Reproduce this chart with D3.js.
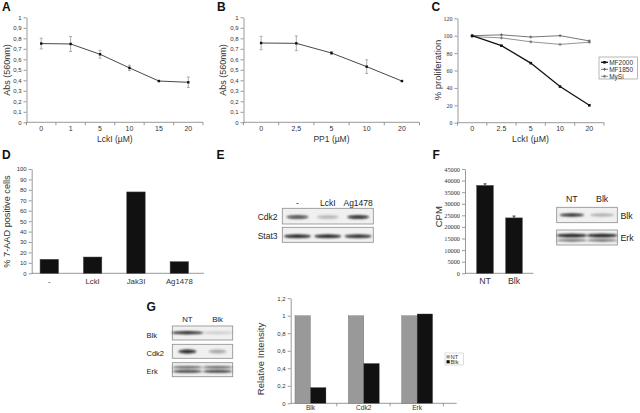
<!DOCTYPE html>
<html><head><meta charset="utf-8">
<script src="https://cdn.jsdelivr.net/npm/d3@7"></script>
<style>body{margin:0;background:#fff}svg{display:block}text{font-family:"Liberation Sans",Arial,sans-serif;fill:#333}</style>
</head><body><script>
// ---------- data ----------
const aCats=["0","1","5","10","15","20"];
const aVals=[0.75,0.746,0.648,0.518,0.393,0.381];
const aErr=[0.051,0.071,0.037,0.025,0.004,0.05];
const bCats=["0","2,5","5","10","20"];
const bVals=[0.755,0.752,0.66,0.53,0.393];
const bErr=[0.064,0.07,0.013,0.065,0.004];
const abTicks=[0,0.1,0.2,0.3,0.4,0.5,0.6,0.7,0.8,0.9,1];
const abTickLabels=["0","0,1","0,2","0,3","0,4","0,5","0,6","0,7","0,8","0,9","1"];
const cCats=["0","2.5","5","10","20"];
const cSeries=["MF2000","MF1850","MySi"];
const cMF2000=[100,88.5,68.5,41.5,20];
const cMF1850=[100,101,98.5,100,94];
const cMySi=[99,97.5,93,90,92.5];
const cTicks=[0,20,40,60,80,100,120];
const dCats=["-","LckI","Jak3I","Ag1478"];
const dVals=[13.4,15.6,78,11.1];
const dTicks=[0,10,20,30,40,50,60,70,80,90,100];
const eLanes=["-","LckI","Ag1478"];
const eProteins=["Cdk2","Stat3"];
const eCdk2=[0.75,0.25,0.9];
const eStat3=[0.95,0.95,0.9];
const fCats=["NT","Blk"];
const fVals=[37900,23900];
const fErr=[700,800];
const fTicks=[0,5000,10000,15000,20000,25000,30000,35000,40000,45000];
const fProteins=["Blk","Erk"];
const fBlk=[0.95,0.3];
const fErkUpper=[0.95,0.95];
const fErkLower=[0.65,0.65];
const gLanes=["NT","Blk"];
const gProteins=["Blk","Cdk2","Erk"];
const gBlk=[0.95,0.15];
const gCdk2=[0.9,0.3];
const gErkUpper=[0.75,0.75];
const gErkLower=[0.9,0.9];
const gGroups=["Blk","Cdk2","Erk"];
const gSeries=["NT","Blk"];
const gNT=[1,1,1];
const gBlkRel=[0.18,0.455,1.02];
const gTicks=[0,0.2,0.4,0.6,0.8,1,1.2];
const gTickLabels=["0","0,2","0,4","0,6","0,8","1","1,2"];

// ---------- setup ----------
const svg=d3.select("body").append("svg").attr("width",640).attr("height",413);
svg.append("defs").append("filter").attr("id","blur").attr("x","-50%").attr("y","-100%").attr("width","200%").attr("height","300%")
  .append("feGaussianBlur").attr("stdDeviation",0.8);
const AX="#808080";
const SERIF='"Liberation Serif","Times New Roman",serif';

function letter(t,x,y){svg.append("text").attr("x",x).attr("y",y).text(t).style("font-size","12px").style("font-weight","bold").style("fill","#111");}
function styleAxis(g,fs,family){
  g.select(".domain").attr("stroke",AX).attr("stroke-width",0.8);
  g.selectAll(".tick line").attr("stroke",AX).attr("stroke-width",0.8);
  g.selectAll(".tick text").style("font-size",fs+"px").style("fill","#333").style("font-family",family||null);
}
function yAxis(y,x0,ticks,labels,fs,family){
  const g=svg.append("g").attr("transform",`translate(${x0},0)`)
    .call(d3.axisLeft(y).tickValues(ticks).tickFormat((d,i)=>labels?labels[i]:d).tickSize(3).tickSizeOuter(0).tickPadding(2));
  styleAxis(g,fs,family); return g;
}
function yTitle(t,x,y,fs){svg.append("text").attr("transform",`translate(${x},${y}) rotate(-90)`).attr("text-anchor","middle").text(t).style("font-size",fs+"px");}
function xTitle(t,x,y,fs){svg.append("text").attr("x",x).attr("y",y).attr("text-anchor","middle").text(t).style("font-size",fs+"px");}
function bandXAxis(x,y0,fs,boundaryTicks,family,extend,pad){
  const g=svg.append("g").attr("transform",`translate(0,${y0})`)
    .call(d3.axisBottom(x).tickSize(0).tickPadding(pad==null?4:pad));
  styleAxis(g,fs,family);
  g.select(".domain").remove();
  const r=x.range();
  g.append("line").attr("x1",extend?extend[0]:r[0]).attr("x2",extend?extend[1]:r[1]).attr("stroke",AX).attr("stroke-width",0.8);
  if(boundaryTicks){
    const b=x.domain().map(c=>x(c)).concat([r[1]]);
    g.selectAll(".bt").data(b).enter().append("line").attr("x1",d=>d).attr("x2",d=>d).attr("y1",0).attr("y2",3).attr("stroke",AX).attr("stroke-width",0.8);
  }
  return g;
}

// ---------- line panels A, B ----------
function linePanel(cats,vals,errs,xr,title){
  const x=d3.scaleBand(cats,xr);
  const y=d3.scaleLinear([0,1],[122.3,17.3]);
  yAxis(y,xr[0],abTicks,abTickLabels,6);
  bandXAxis(x,122.3,7,true,null,null,3.5);
  const cx=c=>x(c)+x.bandwidth()/2;
  const pts=cats.map((c,i)=>({c,v:vals[i],e:errs[i]}));
  svg.append("path").datum(pts).attr("fill","none").attr("stroke","#333").attr("stroke-width",0.9)
    .attr("d",d3.line().x(d=>cx(d.c)).y(d=>y(d.v)));
  const eb=svg.append("g").attr("stroke","#999").attr("stroke-width",0.8);
  pts.forEach(d=>{
    eb.append("line").attr("x1",cx(d.c)).attr("x2",cx(d.c)).attr("y1",y(d.v-d.e)).attr("y2",y(d.v+d.e));
    eb.append("line").attr("x1",cx(d.c)-1.5).attr("x2",cx(d.c)+1.5).attr("y1",y(d.v-d.e)).attr("y2",y(d.v-d.e));
    eb.append("line").attr("x1",cx(d.c)-1.5).attr("x2",cx(d.c)+1.5).attr("y1",y(d.v+d.e)).attr("y2",y(d.v+d.e));
  });
  svg.append("g").selectAll("rect").data(pts).enter().append("rect")
    .attr("x",d=>cx(d.c)-1.2).attr("y",d=>y(d.v)-1.2).attr("width",2.4).attr("height",2.4).attr("fill","#111");
  xTitle(title,(xr[0]+xr[1])/2,141.5,8.5);
}
letter("A",2,11);
linePanel(aCats,aVals,aErr,[26.5,203],"LckI (µM)");
yTitle("Abs (560nm)",9.5,70,9);
letter("B",217,11);
linePanel(bCats,bVals,bErr,[243.5,419.5],"PP1 (µM)");
yTitle("Abs (560nm)",226,70,9);

// ---------- panel C ----------
letter("C",431.5,11);
{
  const x=d3.scaleBand(cCats,[457.5,604]);
  const y=d3.scaleLinear([0,120],[122.7,18.3]);
  yAxis(y,457.5,cTicks,null,6,SERIF);
  bandXAxis(x,122.7,7,true,null,null,3.5);
  const cx=c=>x(c)+x.bandwidth()/2;
  const series=[
    {name:cSeries[0],vals:cMF2000,color:"#111",w:1.3,marker:"sq"},
    {name:cSeries[1],vals:cMF1850,color:"#555",w:0.8,marker:"plus"},
    {name:cSeries[2],vals:cMySi,color:"#777",w:0.8,marker:"star"}];
  function marker(g,s,px,py){
    if(s.marker==="sq") g.append("rect").attr("x",px-1.3).attr("y",py-1.3).attr("width",2.6).attr("height",2.6).attr("fill",s.color);
    else { g.append("line").attr("x1",px-1.5).attr("x2",px+1.5).attr("y1",py).attr("y2",py).attr("stroke",s.color).attr("stroke-width",0.8);
      g.append("line").attr("x1",px).attr("x2",px).attr("y1",py-1.5).attr("y2",py+1.5).attr("stroke",s.color).attr("stroke-width",0.8);
      if(s.marker==="star"){g.append("line").attr("x1",px-1.1).attr("x2",px+1.1).attr("y1",py-1.1).attr("y2",py+1.1).attr("stroke",s.color).attr("stroke-width",0.6);
        g.append("line").attr("x1",px-1.1).attr("x2",px+1.1).attr("y1",py+1.1).attr("y2",py-1.1).attr("stroke",s.color).attr("stroke-width",0.6);} }
  }
  series.slice().reverse().forEach(s=>{
    svg.append("path").datum(s.vals).attr("fill","none").attr("stroke",s.color).attr("stroke-width",s.w)
      .attr("d",d3.line().x((d,i)=>cx(cCats[i])).y(d=>y(d)));
    const g=svg.append("g");
    s.vals.forEach((v,i)=>marker(g,s,cx(cCats[i]),y(v)));
  });
  xTitle("LckI (µM)",530.5,142,8.8);
  yTitle("% proliferation",441,70,9.5);
  // legend
  const lg=svg.append("g");
  lg.append("rect").attr("x",599).attr("y",57).attr("width",38.5).attr("height",22).attr("fill","#fff").attr("stroke","#888").attr("stroke-width",0.6);
  series.forEach((s,i)=>{
    const yy=62.3+i*7;
    lg.append("line").attr("x1",601).attr("x2",608).attr("y1",yy).attr("y2",yy).attr("stroke",s.color).attr("stroke-width",s.w);
    marker(lg,s,604.5,yy);
    lg.append("text").attr("x",609.2).attr("y",yy+2.3).text(s.name).style("font-size","6.5px");
  });
}

// ---------- panel D ----------
letter("D",2,159);
{
  const x=d3.scaleBand(dCats,[27.6,201]);
  const y=d3.scaleLinear([0,100],[273.3,169]);
  yAxis(y,31.7,dTicks,null,6);
  bandXAxis(x,273.3,7.8,false,null,[31.7,204],5);
  svg.append("g").selectAll("rect").data(dCats).enter().append("rect")
    .attr("x",c=>x(c)+x.bandwidth()/2-9.2).attr("width",18.4)
    .attr("y",(c,i)=>y(dVals[i])).attr("height",(c,i)=>y(0)-y(dVals[i]))
    .attr("fill","#111").attr("stroke","#444").attr("stroke-width",0.5);
  yTitle("% 7-AAD positive cells",9.5,221.5,9.2);
}

// ---------- blots ----------
function blotBox(x0,x1,y0,y1){
  svg.append("rect").attr("x",x0).attr("y",y0).attr("width",x1-x0).attr("height",y1-y0)
    .attr("fill","#f0f0f0").attr("stroke","#8c8c8c").attr("stroke-width",0.8);
}
function bands(lanes,x0,x1,cy,vals,wFrac,ry){
  const lx=d3.scaleBand(lanes,[x0,x1]);
  svg.append("g").attr("filter","url(#blur)").selectAll("ellipse").data(lanes).enter().append("ellipse")
    .attr("cx",l=>lx(l)+lx.bandwidth()/2).attr("cy",cy)
    .attr("rx",lx.bandwidth()*wFrac/2).attr("ry",ry)
    .attr("fill","#0a0a0a").attr("opacity",(l,i)=>vals[i]);
  return lx;
}
function laneLabels(lx,lanes,y,fs){
  svg.append("g").selectAll("text").data(lanes).enter().append("text")
    .attr("x",l=>lx(l)+lx.bandwidth()/2).attr("y",y).attr("text-anchor","middle").text(l=>l).style("font-size",fs+"px").style("fill","#222");
}
function rowLabel(t,x,y,fs,anchor){svg.append("text").attr("x",x).attr("y",y).attr("text-anchor",anchor).text(t).style("font-size",fs+"px").style("fill","#222");}

// panel E
letter("E",216.5,158.5);
{
  const x0=282.3,x1=373.3;
  blotBox(x0,x1,208.3,224); blotBox(x0,x1,227.3,242.3);
  const lx=bands(eLanes,x0,x1,217,eCdk2,0.72,1.8);
  bands(eLanes,x0,x1,236.3,eStat3,0.88,1.7);
  laneLabels(lx,eLanes,205.5,8.5);
  rowLabel(eProteins[0],277.5,220,8.5,"end");
  rowLabel(eProteins[1],277.5,239,8.5,"end");
}

// ---------- panel F ----------
letter("F",432.5,158.5);
{
  const x=d3.scaleBand(fCats,[470.5,528.5]);
  const y=d3.scaleLinear([0,45000],[273.3,169]);
  yAxis(y,465,fTicks,null,6.3,SERIF);
  bandXAxis(x,273.3,8.8,false,null,[465,533.5],4);
  const cx=c=>x(c)+x.bandwidth()/2;
  svg.append("g").selectAll("rect").data(fCats).enter().append("rect")
    .attr("x",c=>cx(c)-8.3).attr("width",16.6)
    .attr("y",(c,i)=>y(fVals[i])).attr("height",(c,i)=>y(0)-y(fVals[i]))
    .attr("fill","#111").attr("stroke","#444").attr("stroke-width",0.5);
  const eb=svg.append("g").attr("stroke","#111").attr("stroke-width",0.8);
  fCats.forEach((c,i)=>{
    eb.append("line").attr("x1",cx(c)).attr("x2",cx(c)).attr("y1",y(fVals[i])).attr("y2",y(fVals[i]+fErr[i]));
    eb.append("line").attr("x1",cx(c)-1.5).attr("x2",cx(c)+1.5).attr("y1",y(fVals[i]+fErr[i])).attr("y2",y(fVals[i]+fErr[i]));
  });
  yTitle("CPM",441.5,216.7,9.5);
  // blot
  const x0=556.7,x1=617.3;
  blotBox(x0,x1,207.3,222.7); blotBox(x0,x1,230,245);
  const lx=bands(fCats,x0,x1,215,fBlk,0.82,1.4);
  bands(fCats,x0,x1,235.5,fErkUpper,1.0,1.7);
  bands(fCats,x0,x1,240.3,fErkLower,1.0,1.1);
  laneLabels(lx,fCats,202,8.8);
  rowLabel(fProteins[0],620.5,218.5,8.8,"start");
  rowLabel(fProteins[1],620.5,240.5,8.8,"start");
}

// ---------- panel G ----------
letter("G",146.5,310.5);
{
  const x0=172.3,x1=232.7;
  blotBox(x0,x1,326,340); blotBox(x0,x1,344.3,358.3); blotBox(x0,x1,362.7,376.7);
  const lx=bands(gLanes,x0,x1,332.8,gBlk,1.05,1.5);
  bands(gLanes,x0,x1,351.5,gCdk2,0.6,1.9);
  bands(gLanes,x0,x1,367.3,gErkUpper,1.0,1.0);
  bands(gLanes,x0,x1,371.3,gErkLower,1.0,1.2);
  laneLabels(lx,gLanes,321.5,7.8);
  rowLabel(gProteins[0],146.5,337.5,7.5,"start");
  rowLabel(gProteins[1],146.5,355.8,7.5,"start");
  rowLabel(gProteins[2],146.5,374,7.5,"start");
}
{
  const x=d3.scaleBand(gGroups,[283.8,443.8]);
  const xs=d3.scaleBand(gSeries,[0,31]);
  const y=d3.scaleLinear([0,1.2],[403.3,298.2]);
  yAxis(y,290.7,gTicks,gTickLabels,6);
  const g=bandXAxis(x,403.3,6.6,false,null,[290.7,456.7],1.8);
  [336.8,390.1,443.4].forEach(b=>g.append("line").attr("x1",b).attr("x2",b).attr("y1",0).attr("y2",3).attr("stroke",AX).attr("stroke-width",0.8));
  const colors={NT:"#999999",Blk:"#111111"};
  const vals={NT:gNT,Blk:gBlkRel};
  gSeries.forEach(s=>{
    svg.append("g").selectAll("rect").data(gGroups).enter().append("rect")
      .attr("x",c=>x(c)+x.bandwidth()/2-15.5+xs(s)).attr("width",xs.bandwidth())
      .attr("y",(c,i)=>y(vals[s][i])).attr("height",(c,i)=>y(0)-y(vals[s][i]))
      .attr("fill",colors[s]).attr("stroke","#555").attr("stroke-width",0.3);
  });
  yTitle("Relative Intensity",264,359,9.5);
  const lg=svg.append("g");
  lg.append("rect").attr("x",445).attr("y",353).attr("width",18.5).attr("height",12).attr("fill","#fff").attr("stroke","#bbb").attr("stroke-width",0.5);
  gSeries.forEach((s,i)=>{
    const yy=356.8+i*5;
    lg.append("rect").attr("x",446.5).attr("y",yy-1.6).attr("width",3.2).attr("height",3.2).attr("fill",colors[s]);
    lg.append("text").attr("x",450.5).attr("y",yy+2).text(s).style("font-size","5.8px");
  });
}
</script></body></html>
